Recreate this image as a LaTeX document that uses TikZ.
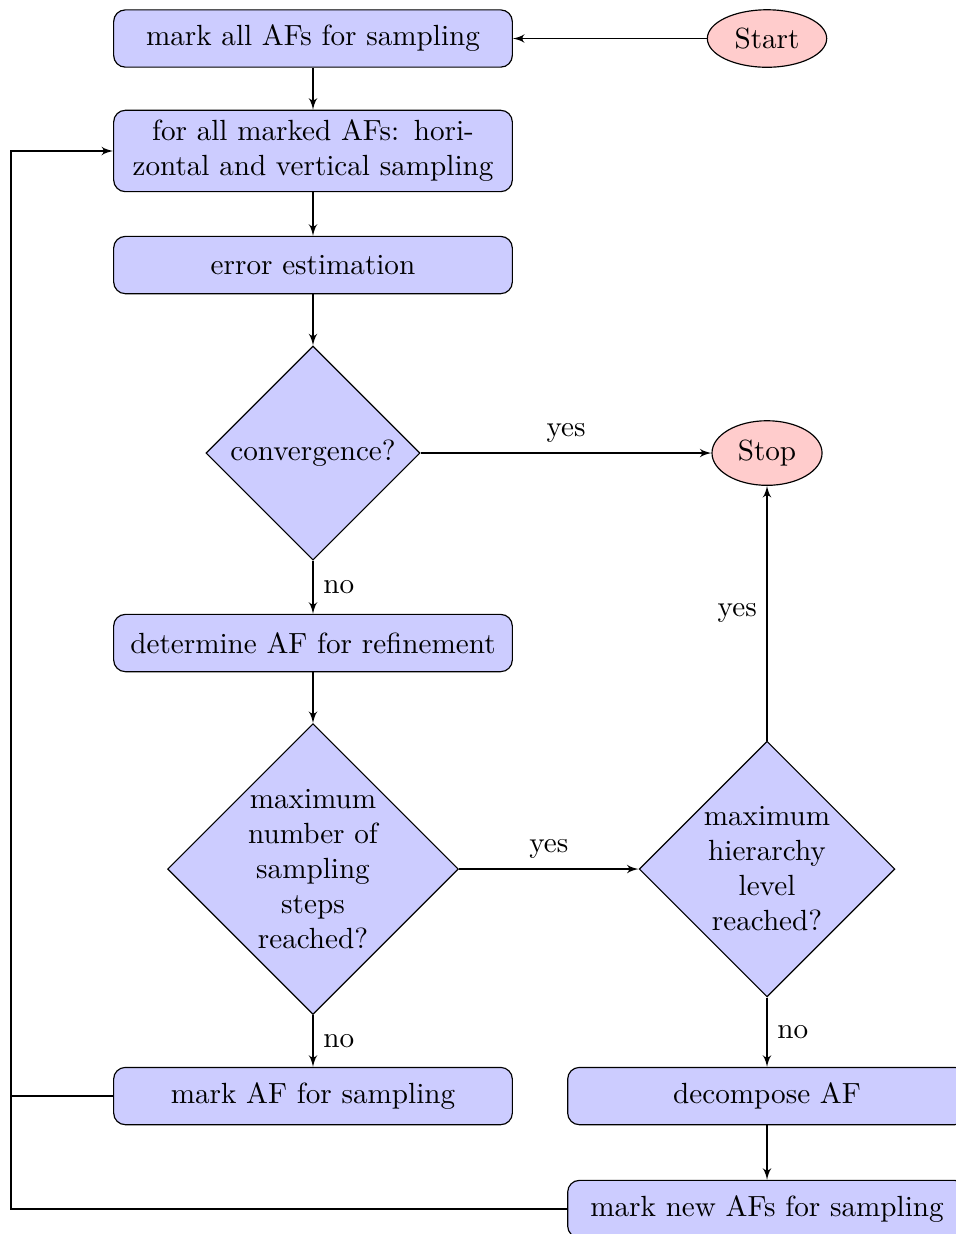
\documentclass[tikz,border=0pt]{standalone}
\usetikzlibrary{shapes.geometric,arrows}
\tikzset{
	block/.style={rectangle, draw, fill=blue!20, text width=13em, text centered, rounded corners, minimum height=0.69cm},
	decision/.style={diamond, draw, fill=blue!20, text width=4.5em, text badly centered, inner sep=0pt},
	cloud/.style={ellipse, draw, fill=red!20},
	line/.style={draw, -latex'}
}
\begin{document}
\begin{tikzpicture}
	\pgfmathsetmacro\XA{3.771}
	\pgfmathsetmacro\XB{9.241}
	\pgfmathsetmacro\XL{0.133}
	\useasboundingbox (0,0) rectangle (11.506,-14.867);
	
	% left column
	\node[block] (markall) at (\XA,-0.464) {mark all AFs for sampling};
	\node[block] (sample) at (\XA,-1.819) {for all marked AFs: hori-\\zontal and vertical sampling};
	\node[block] (error) at (\XA,-3.193) {error estimation};
	\node[decision, text width={}, minimum width=2.58cm, minimum height=2.58cm] (conv) at (\XA,-5.458) {convergence?};
	\node[block] (determine) at (\XA,-7.747) {determine AF for refinement};
	\node[decision] (maxsteps) at (\XA,-10.470) {maximum number of sampling steps reached?};
	\node[block] (markaf) at (\XA,-13.205) {mark AF for sampling};
	
	% right column
	\node[cloud] (start) at (\XB,-0.464) {Start};
	\node[cloud] (stop) at (\XB,-5.458) {Stop};
	\node[decision] (maxlevel) at (\XB,-10.470) {maximum hierarchy level reached?};
	\node[block] (decompose) at (\XB,-13.205) {decompose AF};
	\node[block] (marknew) at (\XB,-14.566) {mark new AFs for sampling};
	
	\coordinate (loop) at (\XL,-13.205);
	
	\path[line] (start) -- (markall);
	\path[line] (markall) -- (sample);
	\path[line] (sample) -- (error);
	\path[line] (error) -- (conv);
	\path[line] (conv) -- node[above] {yes} (stop);
	\path[line] (conv) -- node[right] {no} (determine);
	\path[line] (determine) -- (maxsteps);
	\path[line] (maxsteps) -- node[above] {yes} (maxlevel);
	\path[line] (maxsteps) -- node[right] {no} (markaf);
	\path[line] (maxlevel) -- node[left] {yes} (stop);
	\path[line] (maxlevel) -- node[right] {no} (decompose);
	\path[line] (decompose) -- (marknew);
	\path[line] (markaf) -- (loop) |- (sample);
	\draw (marknew) -| (loop);
\end{tikzpicture}
\end{document}
